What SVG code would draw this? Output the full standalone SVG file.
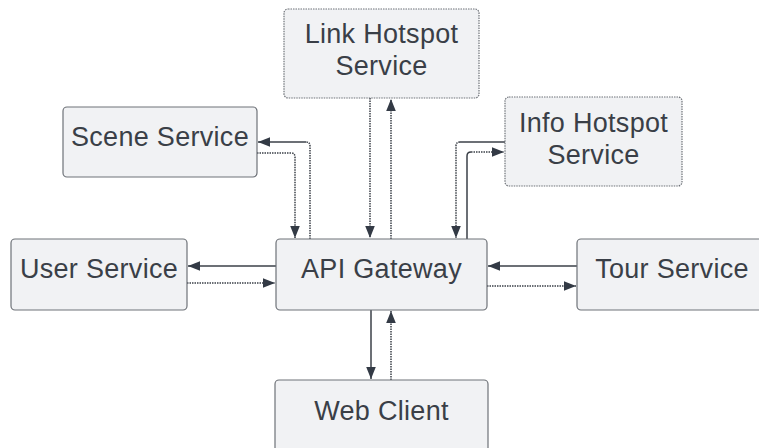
<svg xmlns="http://www.w3.org/2000/svg" width="759" height="448" viewBox="0 0 759 448">
  <style>
    .box { fill: #f1f2f4; stroke: #6e7278; stroke-width: 1.2; }
    .box.dot { stroke-dasharray: 1.5 1; }
    .label { font-family: "Liberation Sans", Arial, sans-serif; font-size: 27px; letter-spacing: 0.3px; fill: #3a3f47; text-anchor: middle; }
    .wire { fill: none; stroke: #3b4048; stroke-width: 1.5; }
    .wire.dot { stroke-dasharray: 1.5 1; }
  </style>
  <defs>
    <marker id="head" markerUnits="userSpaceOnUse" markerWidth="12" markerHeight="12" viewBox="0 0 10 8" refX="10" refY="4" orient="auto">
      <path d="M0,0 L10,4 L0,8 z" fill="#333a45"/>
    </marker>
  </defs>

  <rect width="759" height="448" fill="#ffffff"/>

  <!-- connectors -->
  <g id="connectors">
    <!-- Link Hotspot Service <-> API Gateway -->
    <path class="wire dot" d="M370,98 V238" marker-end="url(#head)"/>
    <path class="wire dot" d="M391,239 V99" marker-end="url(#head)"/>
    <!-- API Gateway -> Scene Service -->
    <path class="wire dot" d="M310,239 V146 Q310,142 306,142"/>
    <path class="wire" d="M306,142 H258" marker-end="url(#head)"/>
    <!-- Scene Service -> API Gateway -->
    <path class="wire dot" d="M257,153 H291 Q295,153 295,157 V238" marker-end="url(#head)"/>
    <!-- Info Hotspot Service -> API Gateway -->
    <path class="wire" d="M505,142 H460"/>
    <path class="wire dot" d="M460,142 Q456,142 456,146 V238" marker-end="url(#head)"/>
    <!-- API Gateway -> Info Hotspot Service -->
    <path class="wire" d="M467,239 V156 Q467,152 471,152"/>
    <path class="wire dot" d="M471,152 H504" marker-end="url(#head)"/>
    <!-- API Gateway <-> User Service -->
    <path class="wire" d="M276,266 H188" marker-end="url(#head)"/>
    <path class="wire dot" d="M187,283 H275" marker-end="url(#head)"/>
    <!-- API Gateway <-> Tour Service -->
    <path class="wire" d="M577,266 H488" marker-end="url(#head)"/>
    <path class="wire dot" d="M487,286 H576" marker-end="url(#head)"/>
    <!-- API Gateway <-> Web Client -->
    <path class="wire" d="M371,310 V379" marker-end="url(#head)"/>
    <path class="wire dot" d="M391,380 V311" marker-end="url(#head)"/>
  </g>

  <!-- nodes -->
  <g id="link-hotspot-service">
    <rect class="box dot" x="284" y="9" width="195" height="89" rx="4"/>
    <text class="label" x="381.5" y="43">Link Hotspot</text>
    <text class="label" x="381.5" y="75">Service</text>
  </g>
  <g id="scene-service">
    <rect class="box" x="63" y="107" width="194" height="70" rx="4"/>
    <text class="label" x="160" y="146">Scene Service</text>
  </g>
  <g id="info-hotspot-service">
    <rect class="box dot" x="505" y="97" width="177" height="89" rx="4"/>
    <text class="label" x="593.5" y="132">Info Hotspot</text>
    <text class="label" x="593.5" y="164">Service</text>
  </g>
  <g id="user-service">
    <rect class="box" x="11" y="239" width="176" height="71" rx="4"/>
    <text class="label" x="99" y="278">User Service</text>
  </g>
  <g id="api-gateway">
    <rect class="box" x="276" y="239" width="211" height="71" rx="4"/>
    <text class="label" x="381.5" y="278">API Gateway</text>
  </g>
  <g id="tour-service">
    <rect class="box" x="577" y="239" width="190" height="71" rx="4"/>
    <text class="label" x="672" y="278">Tour Service</text>
  </g>
  <g id="web-client">
    <rect class="box" x="275" y="380" width="213" height="75" rx="4"/>
    <text class="label" x="381.5" y="420">Web Client</text>
  </g>
</svg>
